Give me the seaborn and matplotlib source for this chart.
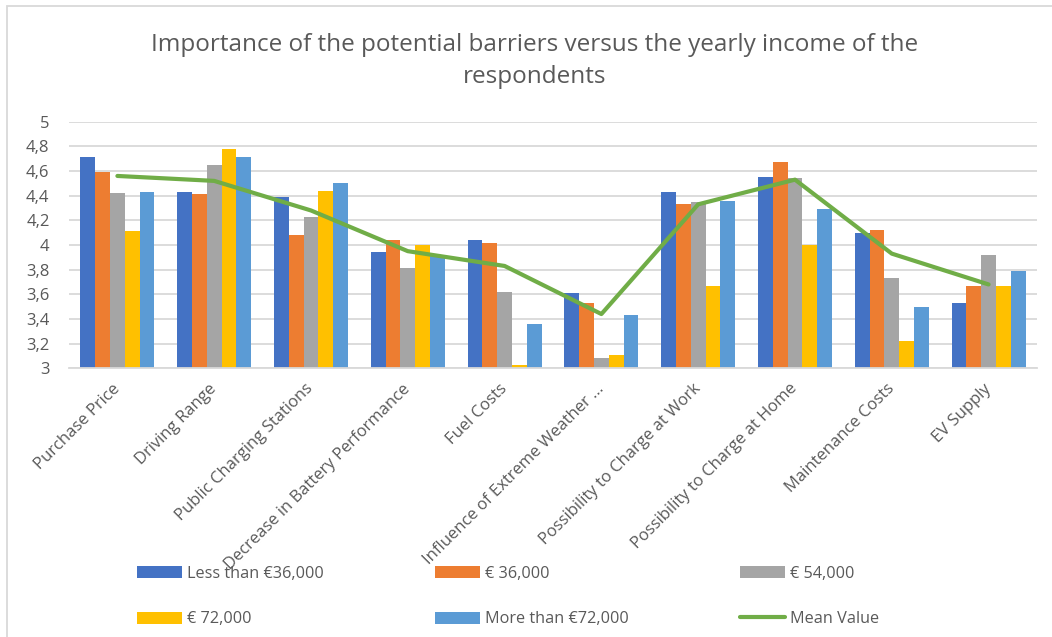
import numpy as np
import pandas as pd
import matplotlib
matplotlib.use("Agg")
import matplotlib.pyplot as plt
from matplotlib.lines import Line2D
from matplotlib.patches import Rectangle
import seaborn as sns

# Barriers rated by respondents (x categories)
barriers = [
    "Purchase Price", "Driving Range", "Public Charging Stations",
    "Decrease in Battery Performance", "Fuel Costs",
    "Influence of Extreme Weather ...", "Possibility to Charge at Work",
    "Possibility to Charge at Home", "Maintenance Costs", "EV Supply",
]

# Yearly income groups (series)
income_groups = ["Less than €36,000", "€ 36,000", "€ 54,000", "€ 72,000", "More than €72,000"]

# Average importance score per barrier for each income group
less_than_36k = [4.71, 4.43, 4.39, 3.94, 4.04, 3.61, 4.43, 4.55, 4.10, 3.53]
income_36k    = [4.59, 4.41, 4.08, 4.04, 4.02, 3.53, 4.33, 4.67, 4.12, 3.67]
income_54k    = [4.42, 4.65, 4.23, 3.81, 3.62, 3.08, 4.35, 4.54, 3.73, 3.92]
income_72k    = [4.11, 4.78, 4.44, 4.00, 3.03, 3.11, 3.67, 4.00, 3.22, 3.67]
more_than_72k = [4.43, 4.71, 4.50, 3.92, 3.36, 3.43, 4.36, 4.29, 3.50, 3.79]

# Mean importance per barrier across all respondents
mean_value = [4.56, 4.52, 4.28, 3.95, 3.83, 3.44, 4.33, 4.53, 3.93, 3.68]

y_ticks = [3.0, 3.2, 3.4, 3.6, 3.8, 4.0, 4.2, 4.4, 4.6, 4.8, 5.0]

series = [less_than_36k, income_36k, income_54k, income_72k, more_than_72k]
df = pd.DataFrame({
    "barrier": barriers * len(income_groups),
    "income": np.repeat(income_groups, len(barriers)),
    "score": np.concatenate(series),
})

colors = ["#4472C4", "#ED7D31", "#A5A5A5", "#FFC000", "#5B9BD5"]
mean_color = "#70AD47"
text_color = "#595959"
grid_color = "#D9D9D9"

sns.set_theme(style="white")
plt.rcParams["font.family"] = ["Open Sans", "DejaVu Sans"]
plt.rcParams["text.color"] = text_color

W, H = 1052, 637
fig = plt.figure(figsize=(W / 100, H / 100), dpi=100)
ax = fig.add_axes([69 / W, 1 - 368.3 / H, (1037 - 69) / W, (368.3 - 121.7) / H])

sns.barplot(
    data=df, x="barrier", y="score", hue="income", order=barriers,
    hue_order=income_groups, palette=colors, width=0.764, gap=0,
    linewidth=0, saturation=1, ax=ax, errorbar=None,
)

x_pos = np.arange(len(barriers))
ax.plot(x_pos, mean_value, color=mean_color, lw=3.0, solid_capstyle="round",
        solid_joinstyle="round", zorder=5)

ax.set_ylim(3, 5)
ax.set_xlim(-0.5, len(barriers) - 0.5)
ax.set_yticks(y_ticks)
ax.set_yticklabels([f"{v:g}".replace(".", ",") for v in y_ticks])
ax.set_xlabel("")
ax.set_ylabel("")
ax.set_axisbelow(True)
ax.yaxis.grid(True, color=grid_color, lw=1.3)
ax.xaxis.grid(False)
for side in ["top", "right", "left"]:
    ax.spines[side].set_visible(False)
ax.spines["bottom"].set_color(grid_color)
ax.spines["bottom"].set_linewidth(1.3)
ax.tick_params(axis="y", length=0, pad=14, labelsize=12, labelcolor=text_color)
ax.tick_params(axis="x", length=0, pad=13, labelsize=12, labelcolor=text_color)
for lab in ax.get_xticklabels():
    lab.set_rotation(45)
    lab.set_ha("right")
    lab.set_va("center")
    lab.set_rotation_mode("anchor")

# Legend: three columns, filled row by row
handles, labels = ax.get_legend_handles_labels()
ax.get_legend().remove()
mean_handle = Line2D([0], [0], color=mean_color, lw=3.0, solid_capstyle="round")
handles = list(handles) + [mean_handle]
labels = list(labels) + ["Mean Value"]
order = [0, 3, 1, 4, 2, 5]
fig.legend(
    [handles[i] for i in order], [labels[i] for i in order],
    ncol=3, loc="upper left", bbox_to_anchor=(137 / W, 1 - 566 / H),
    frameon=False, fontsize=11.7, handlelength=2.75, handleheight=0.75,
    handletextpad=0.33, columnspacing=6.85, labelspacing=1.8,
    borderpad=0, borderaxespad=0, labelcolor=text_color,
)

fig.text(535 / W, 1 - 61 / H,
         "Importance of the potential barriers versus the yearly income of the\nrespondents",
         ha="center", va="center", fontsize=17.5, color=text_color, linespacing=1.42)

# Outer chart frame
fig.add_artist(Rectangle((7 / W, -0.1), 1.2, 1.1 - 6 / H, transform=fig.transFigure,
                         fill=False, edgecolor=grid_color, lw=1.3, clip_on=False))

fig.savefig("out.png", dpi=100)
